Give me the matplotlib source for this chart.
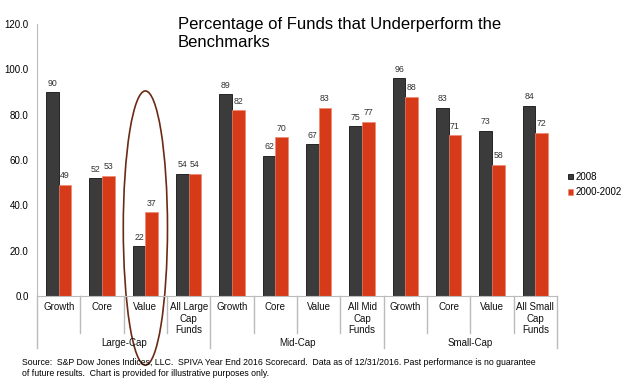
import numpy as np
import matplotlib
matplotlib.use("Agg")
import matplotlib.pyplot as plt
from matplotlib.patches import Ellipse
from matplotlib.lines import Line2D

plt.rcParams['font.family'] = ['Liberation Sans', 'DejaVu Sans']

# data
categories = ['Growth', 'Core', 'Value', 'All Large\nCap\nFunds',
              'Growth', 'Core', 'Value', 'All Mid\nCap\nFunds',
              'Growth', 'Core', 'Value', 'All Small\nCap\nFunds']
groups = ['Large-Cap', 'Mid-Cap', 'Small-Cap']
vals_2008 = [90, 52, 22, 54, 89, 62, 67, 75, 96, 83, 73, 84]
vals_0002 = [49, 53, 37, 54, 82, 70, 83, 77, 88, 71, 58, 72]
series_names = ['2008', '2000-2002']

dark = '#3b3b3b'
red = '#d63a18'

fig = plt.figure(figsize=(6.28, 3.82), dpi=100)
ax = fig.add_axes([0.059, 0.225, 0.828, 0.712])

x = np.arange(len(categories))
bw = 0.29
b1 = ax.bar(x - bw / 2, vals_2008, width=bw, color=dark, edgecolor='#111111', linewidth=0.6)
b2 = ax.bar(x + bw / 2, vals_0002, width=bw, color=red, edgecolor='#ee8870', linewidth=0.5)

for rect, v in zip(b1, vals_2008):
    ax.text(rect.get_x() + rect.get_width() / 2, v + 2, str(v), ha='center', va='bottom',
            fontsize=6.3, color='#333333')
for rect, v in zip(b2, vals_0002):
    ax.text(rect.get_x() + rect.get_width() / 2, v + 2, str(v), ha='center', va='bottom',
            fontsize=6.3, color='#333333')

ax.set_xlim(-0.5, len(categories) - 0.5)
ax.set_ylim(0, 120)
ax.set_yticks(np.arange(0, 121, 20))
ax.set_yticklabels(['%.1f' % t for t in np.arange(0, 121, 20)], fontsize=7)
ax.tick_params(axis='y', length=0, pad=6)
ax.set_xticks([])
for s in ['top', 'right']:
    ax.spines[s].set_visible(False)
ax.spines['left'].set_color('#bbbbbb')
ax.spines['bottom'].set_color('#bbbbbb')

# category labels and separators below axis
trans = ax.get_xaxis_transform()
for i, lab in enumerate(categories):
    ax.text(i, -0.022, lab, transform=trans, ha='center', va='top', fontsize=7,
            linespacing=1.2, color='#111111')
for k in range(len(categories) + 1):
    bottom = -0.19 if k % 4 == 0 else -0.135
    ax.add_line(Line2D([k - 0.5, k - 0.5], [0, bottom], transform=trans, color='#bbbbbb',
                       linewidth=1, clip_on=False))
for g, name in enumerate(groups):
    ax.text(g * 4 + 1.5, -0.173, name, transform=trans, ha='center', va='center',
            fontsize=7, color='#111111')

# legend
ax.legend([b1, b2], series_names, loc='center left', bbox_to_anchor=(1.005, 0.41),
          frameon=False, fontsize=7, handlelength=0.5, handleheight=0.5,
          handletextpad=0.2, labelspacing=0.55)

# highlight ellipse
ax.add_patch(Ellipse((2, 30), 1.02, 121, fill=False, edgecolor='#6b2a14', linewidth=1.2,
                     clip_on=False))

fig.text(0.283, 0.955, 'Percentage of Funds that Underperform the\nBenchmarks', ha='left', va='top',
         fontsize=12, linespacing=1.25)

fig.text(0.035, 0.037, 'Source:  S&P Dow Jones Indices, LLC.  SPIVA Year End 2016 Scorecard.  '
         'Data as of 12/31/2016. Past performance is no guarantee\n'
         'of future results.  Chart is provided for illustrative purposes only.',
         ha='left', va='center', fontsize=6.3, linespacing=1.3)

fig.savefig('out.png', dpi=100)
